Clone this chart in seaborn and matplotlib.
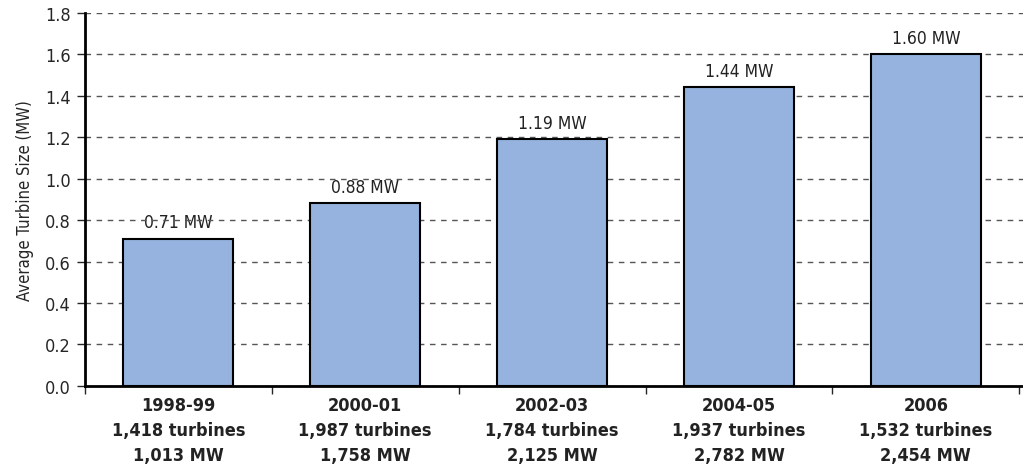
"""Average turbine size by installation period"""

import matplotlib

matplotlib.use("Agg")
import matplotlib.pyplot as plt
import numpy as np
import pandas as pd
import seaborn as sns

# %% Data

periods = ["1998-99", "2000-01", "2002-03", "2004-05", "2006"]
turbines = ["1,418", "1,987", "1,784", "1,937", "1,532"]
capacity_mw = ["1,013", "1,758", "2,125", "2,782", "2,454"]
avg_size_mw = [0.71, 0.88, 1.19, 1.44, 1.60]

data = pd.DataFrame({"period": periods, "size": avg_size_mw})

# %% Plot

sns.set_style("white")
plt.rcParams["font.family"] = ["Liberation Sans Narrow", "DejaVu Sans"]
plt.rcParams["font.stretch"] = "condensed"

fig = plt.figure(figsize=(10.23, 4.77), dpi=100)
ax = fig.add_axes([0.083, 0.189, 0.917, 0.782])

sns.barplot(
    data,
    x="period",
    y="size",
    color="#95B3DE",
    saturation=1,
    edgecolor="black",
    linewidth=1.5,
    width=0.59,
    ax=ax,
    zorder=2,
)

for i, v in enumerate(avg_size_mw):
    ax.text(i, v + 0.035, f"{v:.2f} MW", ha="center", va="bottom",
            fontsize=12.5, color="#222222", zorder=0.4)

ax.set_ylim(0, 1.8)
ax.set_xlim(-0.5, 4.52)
ax.set_yticks(np.arange(0, 1.81, 0.2))
ax.set_yticklabels([f"{t:.1f}" for t in np.arange(0, 1.81, 0.2)], fontsize=13)
ax.set_ylabel("Average Turbine Size (MW)", fontsize=12, labelpad=8)
ax.set_xlabel("")

# category boundaries as major ticks, labels on minor ticks
ax.set_xticks(np.arange(-0.5, 4.6, 1))
ax.set_xticklabels([])
ax.set_xticks(range(len(periods)), minor=True)
ax.set_xticklabels(
    [f"{p}\n{t} turbines\n{c} MW" for p, t, c in zip(periods, turbines, capacity_mw)],
    minor=True, fontsize=13, fontweight="bold", linespacing=1.5, color="#222222",
)
ax.tick_params(axis="x", which="major", length=6, width=1, direction="out", bottom=True)
ax.tick_params(axis="x", which="minor", length=0, pad=7)
ax.tick_params(axis="y", length=6, width=1, direction="out", left=True, pad=4)

ax.yaxis.grid(True, linestyle=(0, (4, 4)), color="#555555", linewidth=1)
ax.set_axisbelow(True)

for side in ["top", "right"]:
    ax.spines[side].set_visible(False)
for side in ["left", "bottom"]:
    ax.spines[side].set_color("black")
    ax.spines[side].set_linewidth(2)

fig.savefig("out.png", dpi=100)
